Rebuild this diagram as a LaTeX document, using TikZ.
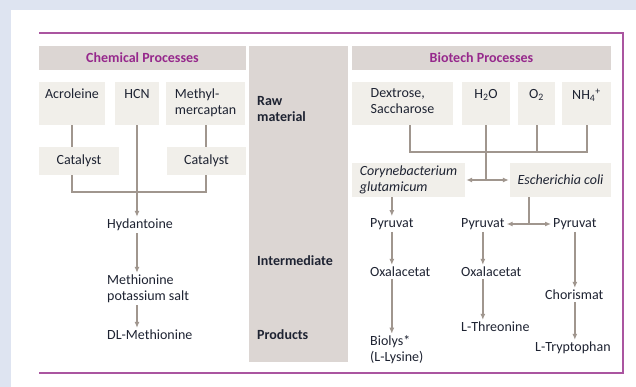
\documentclass[tikz,border=0pt]{standalone}
\usepackage{fontspec}
\setmainfont{Carlito}
\definecolor{bgblue}{RGB}{222,228,241}
\definecolor{boxfill}{RGB}{241,239,234}
\definecolor{headfill}{RGB}{220,214,211}
\definecolor{linegray}{RGB}{160,150,142}
\definecolor{framepurple}{RGB}{170,85,160}
\definecolor{headpurple}{RGB}{150,40,140}
\definecolor{textdark}{RGB}{30,35,50}
\usetikzlibrary{calc, positioning, arrows.meta}

\begin{document}
\begin{tikzpicture}[x=1pt, y=-1pt,
  box/.style={fill=boxfill, inner sep=0pt, font=\fontsize{14}{16}\selectfont, text=textdark},
  boxtxt/.style={anchor=north, inner sep=7pt, align=left, font=\fontsize{14}{16}\selectfont, text=textdark},
  head/.style={fill=headfill, inner sep=0pt, font=\fontsize{14}{16}\selectfont\bfseries, text=headpurple},
  row/.style={anchor=west, inner sep=1pt, align=left, font=\fontsize{14}{16}\selectfont\bfseries, text=textdark},
  item/.style={anchor=west, inner sep=2pt, align=left, font=\fontsize{14}{16}\selectfont, text=textdark},
  link/.style={draw=linegray, line width=2pt},
  arr/.style={link, -{Latex[length=6pt, width=5pt]}},
  dblarr/.style={link, {Latex[length=6pt, width=5pt]}-{Latex[length=6pt, width=5pt]}},
]
% Page and frame
\fill[bgblue] (0,0) rectangle (636,387);
\fill[white] (11,10) rectangle (636,387);
\useasboundingbox (0,0) rectangle (636,387);
\draw[framepurple, line width=1.5pt] (39,33) -- (623,33) -- (623,373) -- (39,373);

% Headers and stage column
\node[head, minimum width=207pt, minimum height=24pt] (chemhead) at (142.5,58) {Chemical Processes};
\node[fill=headfill, inner sep=0pt, minimum width=99pt, minimum height=316pt] (stages) at (298.5,204) {};
\node[head, minimum width=259pt, minimum height=24pt] (biohead) at (481.5,58) {Biotech Processes};

\node[row] (rawlbl) at (256,109) {Raw\\material};
\node[row] (interlbl) at (256,261) {Intermediate};
\node[row] (prodlbl) at (256,335) {Products};

% Chemical route
\node[box, minimum width=66pt, minimum height=43pt, label={[boxtxt]north:Acroleine}] (acro) at (72,103.5) {};
\node[box, minimum width=44pt, minimum height=43pt, label={[boxtxt]north:HCN}] (hcn) at (137,103.5) {};
\node[box, minimum width=79pt, minimum height=43pt, label={[boxtxt]north:Methyl-\\mercaptan}] (methyl) at (205.5,103.5) {};
\node[box, minimum width=80pt, minimum height=28pt] (cat1) at (79,161) {Catalyst};
\node[box, minimum width=79pt, minimum height=28pt] (cat2) at (206.5,161) {Catalyst};

\node[item] (hydan) at (105,225) {Hydantoine};
\node[item] (methsalt) at (105,289) {Methionine\\potassium salt};
\node[item] (dlmeth) at (105,335) {DL-Methionine};

\coordinate (chemjoin) at (137,192);
\draw[link] (acro.south) -- (acro.south |- cat1.north);
\draw[link] (methyl.south) -- (methyl.south |- cat2.north);
\draw[link] (acro.south |- cat1.south) |- (methyl.south |- chemjoin) -- (methyl.south |- cat2.south);
\draw[arr] (hcn.south) -- (hcn.south |- hydan.north);
\draw[arr] (hcn.south |- hydan.south) -- (hcn.south |- methsalt.north);
\draw[arr] (hcn.south |- methsalt.south) -- (hcn.south |- dlmeth.north);

% Biotech route
\node[box, minimum width=101pt, minimum height=43pt, label={[boxtxt]north:Dextrose,\\Saccharose}] (dex) at (402.5,103.5) {};
\node[box, minimum width=48pt, minimum height=43pt, label={[boxtxt]north:H\textsubscript{2}O}] (h2o) at (486,103.5) {};
\node[box, minimum width=37pt, minimum height=43pt, label={[boxtxt]north:O\textsubscript{2}}] (o2) at (536.5,103.5) {};
\node[box, minimum width=49pt, minimum height=43pt, label={[boxtxt]north:NH\textsubscript{4}\textsuperscript{+}}] (nh4) at (586.5,103.5) {};
\node[box, minimum width=113pt, minimum height=34pt, align=left, font=\fontsize{14}{16}\selectfont\itshape] (coryne) at (408.5,180) {Corynebacterium\\glutamicum};
\node[box, minimum width=101pt, minimum height=34pt, font=\fontsize{14}{16}\selectfont\itshape] (ecoli) at (560.5,180) {Escherichia coli};

\coordinate (biojoin) at (486,152);
\draw[link] ([xshift=7pt]dex.south) |- (nh4.south |- biojoin) -- (nh4.south);
\draw[link] (o2.south) -- (o2.south |- biojoin);
\draw[link] (h2o.south) -- (h2o.south |- coryne.east);
\draw[dblarr, shorten <=1pt, shorten >=1pt] (coryne.east) -- (ecoli.west);

\node[item] (pyr1) at (368,224) {Pyruvat};
\node[item] (oxa1) at (368,272) {Oxalacetat};
\node[item] (biolys) at (368,350) {Biolys*\\(L-Lysine)};

\node[item] (pyr2) at (459,224) {Pyruvat};
\node[item] (oxa2) at (459,272) {Oxalacetat};
\node[item] (thr) at (459,327) {L-Threonine};

\node[item] (pyr3) at (551,224) {Pyruvat};
\node[item] (chor) at (543,295) {Chorismat};
\node[item] (tryp) at (533,348) {L-Tryptophan};

\draw[arr] (pyr1.north |- coryne.south) -- (pyr1.north);
\draw[arr] (pyr1.south) -- (pyr1.south |- oxa1.north);
\draw[arr] (pyr1.south |- oxa1.south) -- (pyr1.south |- biolys.north);

\coordinate (ecsplit) at ($(pyr2.east)!0.5!(pyr3.west)$);
\draw[link] (ecsplit |- ecoli.south) -- (ecsplit);
\draw[dblarr] (pyr2.east) -- (pyr3.west);
\draw[arr] (pyr2.south) -- (pyr2.south |- oxa2.north);
\draw[arr] (pyr2.south |- oxa2.south) -- (pyr2.south |- thr.north);
\draw[arr] (pyr3.south) -- (pyr3.south |- chor.north);
\draw[arr] (pyr3.south |- chor.south) -- (pyr3.south |- tryp.north);
\end{tikzpicture}
\end{document}
